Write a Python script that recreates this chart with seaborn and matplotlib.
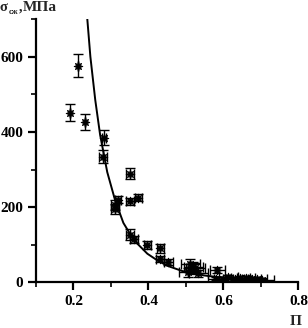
import matplotlib
matplotlib.use("Agg")
import matplotlib.pyplot as plt
import seaborn as sns
import numpy as np
import pandas as pd
from matplotlib.ticker import MultipleLocator

# experimental points: porosity П, strength σ (MPa) and their errors
porosity = [0.212, 0.191, 0.231, 0.282, 0.279, 0.351, 0.319, 0.311, 0.311, 0.351,
            0.373, 0.351, 0.362, 0.397, 0.432, 0.431, 0.453, 0.512, 0.525, 0.506,
            0.533, 0.520, 0.584, 0.580, 0.600, 0.613, 0.630, 0.645, 0.660, 0.675,
            0.690, 0.704]
strength = [576, 451, 427, 385, 334, 289, 220, 205, 195, 215,
            225, 127, 114, 99, 90, 61, 53, 48, 37, 27,
            24, 42, 32, 10, 10, 14, 10, 12, 11, 10,
            9, 6]
porosity_err = [0.0, 0.0, 0.0, 0.006, 0.010, 0.010, 0.009, 0.010, 0.010, 0.010,
                0.010, 0.010, 0.010, 0.010, 0.010, 0.010, 0.012, 0.025, 0.025, 0.025,
                0.025, 0.025, 0.020, 0.020, 0.025, 0.025, 0.025, 0.025, 0.025, 0.025,
                0.025, 0.030]
strength_err = [30, 23, 21, 21, 17, 15, 10, 14, 14, 10,
                10, 15, 10, 10, 12, 8, 8, 15, 15, 12,
                10, 12, 8, 5, 5, 6, 5, 6, 5, 5,
                5, 5]

# fitted curve
curve_p = [0.236, 0.245, 0.258, 0.271, 0.290, 0.311, 0.333, 0.350, 0.370, 0.397,
           0.424, 0.450, 0.490, 0.550, 0.600, 0.620]
curve_s = [710, 600, 485, 392, 293, 218, 158, 130, 103, 76,
           58, 44, 30, 18, 12, 10]

x_ticks = [0.2, 0.4, 0.6, 0.8]
y_ticks = [0, 200, 400, 600]

sns.set_style("ticks")
plt.rcParams['font.family'] = ['Liberation Serif', 'DejaVu Serif']
plt.rcParams['font.weight'] = 'bold'

fig = plt.figure(figsize=(3.08, 3.28), dpi=100)
ax = fig.add_axes([36 / 308, 1 - 282.3 / 328, 262.5 / 308, 263.2 / 328])

pts = pd.DataFrame({"p": porosity, "s": strength})
cur = pd.DataFrame({"p": curve_p, "s": curve_s})

sns.lineplot(data=cur, x="p", y="s", ax=ax, color="black", lw=1.4,
             sort=False, estimator=None)
ax.errorbar(porosity, strength, xerr=porosity_err, yerr=strength_err,
            fmt="none", ecolor="black", elinewidth=1.0, capsize=3.5, capthick=1.0)
sns.scatterplot(data=pts, x="p", y="s", ax=ax, color="black", marker=(8, 1, 0),
                s=40, edgecolor="black", linewidth=0.6, zorder=5)

ax.set_xlim(0.1, 0.8)
ax.set_ylim(0, 700)
ax.set_xticks(x_ticks)
ax.set_xticklabels([f"{v:.1f}" for v in x_ticks])
ax.set_yticks(y_ticks)
ax.set_yticklabels([str(v) for v in y_ticks])
ax.xaxis.set_minor_locator(MultipleLocator(0.1))
ax.yaxis.set_minor_locator(MultipleLocator(100))
ax.set_xlabel("")
ax.set_ylabel("")

for s in ["top", "right"]:
    ax.spines[s].set_visible(False)
for s in ["left", "bottom"]:
    ax.spines[s].set_linewidth(1.6)
    ax.spines[s].set_color("black")

ax.tick_params(which="major", direction="out", length=6, width=1.6,
               labelsize=11, pad=3, colors="black")
ax.tick_params(which="minor", direction="out", length=3.5, width=1.2, colors="black")
for lab in ax.get_xticklabels() + ax.get_yticklabels():
    lab.set_fontweight("bold")

# axis labels
fig.text(0 / 308, 1 - 11 / 328, "σ", fontsize=10.5, fontweight="bold", ha="left", va="baseline")
fig.text(8.5 / 308, 1 - 14 / 328, "сж", fontsize=6, fontweight="bold", ha="left", va="baseline")
fig.text(18.5 / 308, 1 - 11 / 328, ",", fontsize=10.5, fontweight="bold", ha="left", va="baseline")
fig.text(23 / 308, 1 - 11 / 328, "МПа", fontsize=11, fontweight="bold", ha="left", va="baseline")
fig.text(296 / 308, 1 - 325 / 328, "П", fontsize=11, fontweight="bold", ha="center", va="baseline")

fig.savefig("out.png", dpi=100)
